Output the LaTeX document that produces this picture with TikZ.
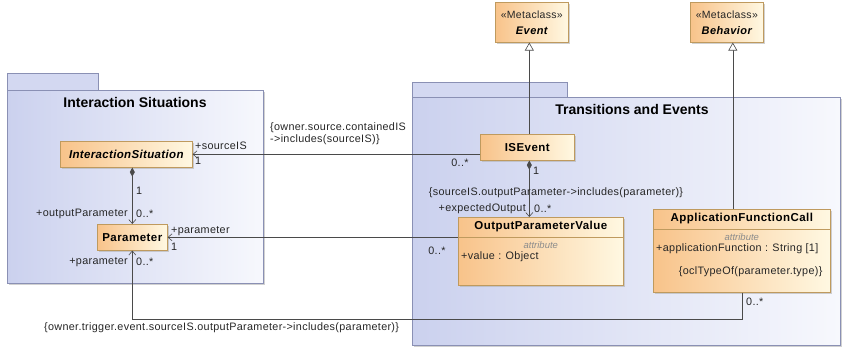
\documentclass[tikz,border=0pt]{standalone}
\usepackage{fontspec}
\setmainfont{Liberation Sans}
\usetikzlibrary{arrows.meta,shadows,calc}
\definecolor{pkgline}{HTML}{8A90B4}
\definecolor{pkgdark}{HTML}{CBD1EE}
\definecolor{pkglight}{HTML}{F7F8FD}
\definecolor{clsline}{HTML}{BF9A5E}
\definecolor{clsdark}{HTML}{F8C38A}
\definecolor{clslight}{HTML}{FFF8E2}
\definecolor{wire}{HTML}{4A4A4A}
\begin{document}
\begin{tikzpicture}[x=1pt,y=-1pt,
  shadowed/.style={drop shadow={shadow xshift=2pt,shadow yshift=-2pt,fill=black!30,opacity=0.6}},
  pkg/.style={draw=pkgline,line width=0.7pt,left color=pkgdark,right color=pkglight,
    shadowed,inner sep=0pt,anchor=north west},
  pkgtab/.style={draw=pkgline,line width=0.7pt,fill=pkgdark!85!white,inner sep=0pt,anchor=north west},
  pkgtitle/.style={font=\bfseries\fontsize{14}{16}\selectfont,inner sep=0pt},
  cls/.style={draw=clsline,line width=0.6pt,left color=clsdark,right color=clslight,
    shadowed,inner sep=0pt,anchor=north west},
  clsname/.style={font=\bfseries\fontsize{11.5}{13}\selectfont\addfontfeature{LetterSpace=4},inner sep=0pt},
  stereo/.style={font=\fontsize{10.5}{12}\selectfont\addfontfeature{LetterSpace=3},inner sep=0pt,text=black!85},
  metaname/.style={font=\bfseries\itshape\fontsize{11}{13}\selectfont\addfontfeature{LetterSpace=4},inner sep=0pt},
  lbl/.style={font=\fontsize{10.8}{12.5}\selectfont\addfontfeature{LetterSpace=3},inner sep=0pt,text=black!85},
  attr/.style={font=\itshape\fontsize{9.5}{11}\selectfont,text=black!45,inner sep=0pt},
  wireline/.style={draw=wire,line width=0.6pt},
  assoc/.style={wireline,-{Straight Barb[length=4pt,width=7pt]}},
  comp/.style={wireline,{Diamond[length=9pt,width=5pt,fill=wire]}-{Straight Barb[length=4pt,width=7pt]}},
  gen/.style={wireline,-{Triangle[open,length=8pt,width=9pt,fill=white]}}
]
\useasboundingbox (0,0) rectangle (842,347);

% ---- packages ----
\node[pkgtab,minimum width=91pt,minimum height=17pt] (istab) at (7,73) {};
\node[pkg,minimum width=256pt,minimum height=193pt] (ispkg) at (7,90) {};
\node[pkgtitle] (istitle) at (135,102) {Interaction Situations};

\node[pkgtab,minimum width=155pt,minimum height=15pt] (tetab) at (412,82) {};
\node[pkg,minimum width=428pt,minimum height=248pt] (tepkg) at (412,97) {};
\node[pkgtitle] (tetitle) at (632,109) {Transitions and Events};

% ---- metaclasses ----
\node[cls,minimum width=73pt,minimum height=40pt] (ev) at (495,2) {};
\node[stereo] (evst) at ($(ev.north)+(0,13)$) {«Metaclass»};
\node[metaname] (evname) at ($(ev.north)+(0,29)$) {Event};

\node[cls,minimum width=73pt,minimum height=40pt] (beh) at (690,2) {};
\node[stereo] (behst) at ($(beh.north)+(0,13)$) {«Metaclass»};
\node[metaname] (behname) at ($(beh.north)+(0,29)$) {Behavior};

% ---- classes ----
\node[cls,minimum width=132pt,minimum height=26pt] (is) at (60,141) {};
\node[metaname,font=\bfseries\itshape\fontsize{11.5}{13}\selectfont\addfontfeature{LetterSpace=3}] (isname) at (is.center) {InteractionSituation};

\node[cls,minimum width=70pt,minimum height=26pt] (par) at (97,224) {};
\node[clsname] (parname) at (par.center) {Parameter};

\node[cls,minimum width=94pt,minimum height=26pt] (ise) at (480,134) {};
\node[clsname] (isename) at (ise.center) {ISEvent};

\node[cls,minimum width=165pt,minimum height=68pt] (opv) at (458,217) {};
\node[clsname] (opvname) at ($(opv.north)+(0,10)$) {OutputParameterValue};
\draw[clsline,line width=0.6pt] ($(opv.north west)+(0,20)$) -- ($(opv.north east)+(0,20)$);
\node[attr] (opvattr) at ($(opv.north)+(0,28)$) {attribute};
\node[lbl,anchor=west] (opvval) at ($(opv.north west)+(3,40)$) {+value : Object};

\node[cls,minimum width=177pt,minimum height=83pt] (afc) at (653,209) {};
\node[clsname] (afcname) at ($(afc.north)+(0,10)$) {ApplicationFunctionCall};
\draw[clsline,line width=0.6pt] ($(afc.north west)+(0,20)$) -- ($(afc.north east)+(0,20)$);
\node[attr] (afcattr) at ($(afc.north)+(0,28)$) {attribute};
\node[lbl,anchor=west] (afcfn) at ($(afc.north west)+(3,40)$) {+applicationFunction : String [1]};
\node[lbl,anchor=east] (afcocl) at ($(afc.north east)+(-8,63)$) {\{oclTypeOf(parameter.type)\}};

% ---- generalizations ----
\draw[gen] ([xshift=2pt]ise.north) -- ([xshift=2pt]ise.north |- ev.south);
\draw[gen] ([xshift=-9pt]afc.north) -- ([xshift=-9pt]afc.north |- beh.south);

% ---- associations ----
\draw[assoc] (ise.west |- is.east) -- (is.east);
\node[lbl,anchor=west] (l1a) at (195,146) {+sourceIS};
\node[lbl,anchor=west] (l1b) at (195,161) {1};
\node[lbl] (l1c) at (460,163) {0..*};
\node[lbl,anchor=north west,align=left] (c1) at (270,122) {\{owner.source.containedIS\\->includes(sourceIS)\}};

\draw[comp] (par.north |- is.south) -- (par.north);
\node[lbl,anchor=west] (l2a) at (136,191) {1};
\node[lbl,anchor=east] (l2b) at (128,214) {+outputParameter};
\node[lbl,anchor=west] (l2c) at (136,214) {0..*};

\draw[comp] ([xshift=2pt]ise.south) -- ([xshift=2pt]ise.south |- opv.north);
\node[lbl,anchor=west] (l3a) at (533,171) {1};
\node[lbl] (c2) at (556,193) {\{sourceIS.outputParameter->includes(parameter)\}};
\node[lbl,anchor=east] (l3b) at (526,209) {+expectedOutput};
\node[lbl,anchor=west] (l3c) at (534,209) {0..*};

\draw[assoc] (opv.west |- par.east) -- (par.east);
\node[lbl,anchor=west] (l4a) at (171,231) {+parameter};
\node[lbl,anchor=west] (l4b) at (171,247) {1};
\node[lbl] (l4c) at (437,251) {0..*};

\coordinate (bend) at ($(afc.south)+(0,27)$);
\draw[assoc] (afc.south) -- (bend) -| (par.south);
\node[lbl,anchor=west] (l5a) at (746,302) {0..*};
\node[lbl,anchor=east] (l5b) at (128,262) {+parameter};
\node[lbl,anchor=west] (l5c) at (136,262) {0..*};
\node[lbl,anchor=west] (c3) at (44,328) {\{owner.trigger.event.sourceIS.outputParameter->includes(parameter)\}};
\end{tikzpicture}
\end{document}
